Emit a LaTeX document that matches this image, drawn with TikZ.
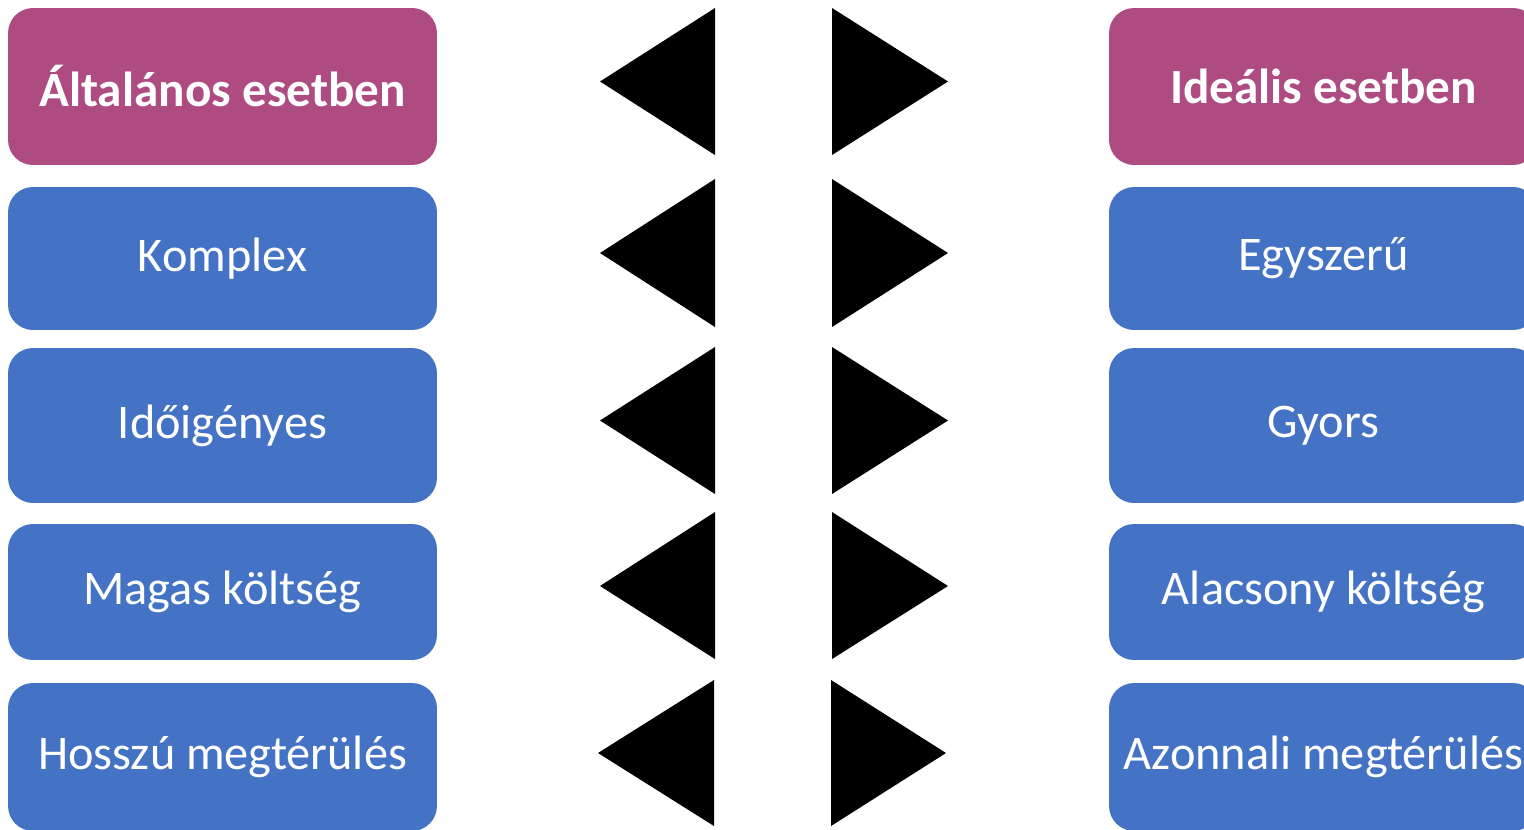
\documentclass[tikz,border=0pt]{standalone}
\usepackage{fontspec}
\setmainfont{Carlito}
\usetikzlibrary{positioning}
\definecolor{headpurple}{RGB}{174,76,130}
\definecolor{itemblue}{RGB}{68,114,196}

\begin{document}
\begin{tikzpicture}[
x=0.02cm, y=-0.02cm,
headbox/.style={rectangle, rounded corners=0.5cm, fill=headpurple, text=white, minimum width=8.58cm, font=\fontsize{28}{34}\selectfont\bfseries},
itembox/.style={rectangle, rounded corners=0.5cm, fill=itemblue, text=white, minimum width=8.58cm, font=\fontsize{27.5}{33}\selectfont},
pointer/.style={fill=black}
]
    \useasboundingbox (0,0) rectangle (1524,829);
    \clip (0,0) rectangle (1524,829);

    %Left column
    \node[headbox, minimum height=3.14cm] (gen)    at (222.5,86.5) {Általános esetben};
    \node[itembox, minimum height=2.86cm] (cplx)   at (222.5,258.5) {Komplex};
    \node[itembox, minimum height=3.10cm] (slow)   at (222.5,425.5) {Időigényes};
    \node[itembox, minimum height=2.72cm] (high)   at (222.5,592) {Magas költség};
    \node[itembox, minimum height=2.96cm] (late)   at (222.5,757) {Hosszú megtérülés};

    %Right column
    \node[headbox, minimum height=3.14cm] (ideal)  at (1323.5,86.5) {Ideális esetben};
    \node[itembox, minimum height=2.86cm] (simple) at (1323.5,258.5) {Egyszerű};
    \node[itembox, minimum height=3.10cm] (fast)   at (1323.5,425.5) {Gyors};
    \node[itembox, minimum height=2.72cm] (low)    at (1323.5,592) {Alacsony költség};
    \node[itembox, minimum height=2.96cm] (now)    at (1323.5,757) {Azonnali megtérülés};

    %Pointers
    \fill[pointer] (600,81.5) -- (715,8) -- (715,155) -- cycle;
    \fill[pointer] (948,81.5) -- (832,8) -- (832,155) -- cycle;
    \fill[pointer] (600,253) -- (715,179) -- (715,327) -- cycle;
    \fill[pointer] (948,253) -- (832,179) -- (832,327) -- cycle;
    \fill[pointer] (600,420.5) -- (715,347) -- (715,494) -- cycle;
    \fill[pointer] (948,420.5) -- (832,347) -- (832,494) -- cycle;
    \fill[pointer] (600,586) -- (715,512) -- (715,659) -- cycle;
    \fill[pointer] (948,586) -- (832,512) -- (832,659) -- cycle;
    \fill[pointer] (598,753) -- (714,680) -- (714,826) -- cycle;
    \fill[pointer] (946,753) -- (831,680) -- (831,826) -- cycle;
\end{tikzpicture}
\end{document}
